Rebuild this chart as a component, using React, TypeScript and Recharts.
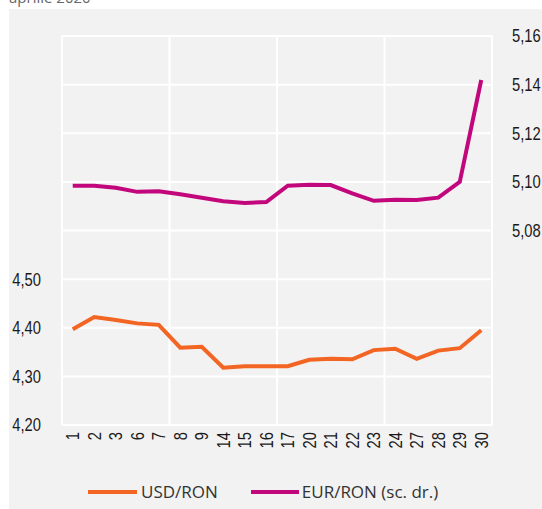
import { LineChart, Line, XAxis, YAxis, CartesianGrid } from 'recharts';

const days = ['1', '2', '3', '6', '7', '8', '9', '14', '15', '16', '17', '20', '21', '22', '23', '24', '27', '28', '29', '30'];
const usdRon = [4.397, 4.422, 4.416, 4.409, 4.406, 4.359, 4.361, 4.318, 4.321, 4.321, 4.321, 4.334, 4.336, 4.335, 4.354, 4.357, 4.336, 4.353, 4.358, 4.395];
const eurRon = [5.0984, 5.0984, 5.0976, 5.0959, 5.0961, 5.0949, 5.0935, 5.092, 5.0913, 5.0917, 5.0984, 5.0988, 5.0987, 5.0953, 5.0922, 5.0926, 5.0925, 5.0935, 5.1, 5.1419];

const leftTicks = [4.2, 4.3, 4.4, 4.5, 4.6, 4.7, 4.8, 4.9, 5.0];
const rightTicks = [5.0, 5.02, 5.04, 5.06, 5.08, 5.1, 5.12, 5.14, 5.16];

const ORANGE = '#f36523';
const MAGENTA = '#c2077c';
const TICK_FONT = '"Liberation Sans", Arial, sans-serif';
const NARROW = 0.82; // squeeze to a condensed look

const data = days.map((d, i) => ({ day: d, usd: usdRon[i], eur: eurRon[i] }));

const fmt = (v: number) => v.toFixed(2).replace('.', ',');

function DayTick({ x, y, payload }: any) {
  return (
    <text
      transform={`translate(${x},${y}) rotate(-90) scale(${NARROW},1)`}
      textAnchor="end"
      dy="0.36em"
      fontSize={18}
      fontFamily={TICK_FONT}
      fill="#1a1a1a"
    >
      {payload.value}
    </text>
  );
}

function ValueTick({ x, y, payload, side, show }: any) {
  const v = payload.value as number;
  if (!show(v)) return null;
  return (
    <text
      transform={`translate(${x},${y}) scale(${NARROW},1)`}
      textAnchor={side === 'left' ? 'end' : 'start'}
      dy="0.36em"
      fontSize={18}
      fontFamily={TICK_FONT}
      fill="#1a1a1a"
    >
      {fmt(v)}
    </text>
  );
}

export default function App() {
  return (
    <div style={{ position: 'absolute', left: 0, top: 0, width: 542, height: 509, background: '#fff', overflow: 'hidden' }}>
      <svg width={542} height={20} style={{ position: 'absolute', left: 0, top: 0 }}>
        <text x={9} y={3} fontSize={15} fontFamily='"Open Sans", sans-serif' fill="#666">
          aprilie 2020
        </text>
      </svg>
      <div style={{ position: 'absolute', left: 9, top: 9, width: 533, height: 500, background: '#f2f2f2' }}>
        <LineChart width={533} height={500} data={data} margin={{ top: 27, right: 0, left: 0, bottom: 0 }}>
          <CartesianGrid
            yAxisId="left"
            stroke="#ffffff"
            strokeWidth={2}
            verticalCoordinatesGenerator={({ offset }: any) =>
              [0, 1, 2, 3, 4].map((i) => offset.left + (offset.width * i) / 4)
            }
          />
          <XAxis
            dataKey="day"
            interval={0}
            height={84}
            padding={{ left: 10.75, right: 10.75 }}
            axisLine={false}
            tickLine={false}
            tickSize={0}
            tickMargin={7}
            tick={<DayTick />}
          />
          <YAxis
            yAxisId="left"
            orientation="left"
            width={53}
            domain={[4.2, 5.0]}
            ticks={leftTicks}
            interval={0}
            axisLine={false}
            tickLine={false}
            tickSize={0}
            tickMargin={21}
            tick={<ValueTick side="left" show={(v: number) => v <= 4.5 + 1e-9} />}
          />
          <YAxis
            yAxisId="right"
            orientation="right"
            width={50}
            domain={[5.0, 5.16]}
            ticks={rightTicks}
            interval={0}
            axisLine={false}
            tickLine={false}
            tickSize={0}
            tickMargin={20}
            tick={<ValueTick side="right" show={(v: number) => v >= 5.08 - 1e-9} />}
          />
          <Line yAxisId="left" dataKey="usd" stroke={ORANGE} strokeWidth={4} dot={false} isAnimationActive={false} />
          <Line yAxisId="right" dataKey="eur" stroke={MAGENTA} strokeWidth={4} dot={false} isAnimationActive={false} />
        </LineChart>
        <div
          style={{
            position: 'absolute',
            top: 473,
            left: 0,
            width: 533,
            display: 'flex',
            alignItems: 'center',
            fontFamily: '"Open Sans", sans-serif',
            fontSize: 17,
            color: '#333',
            lineHeight: '20px',
          }}
        >
          <span style={{ marginLeft: 79, width: 49, height: 4, background: ORANGE, display: 'inline-block' }} />
          <span style={{ marginLeft: 4 }}>USD/RON</span>
          <span style={{ marginLeft: 33, width: 48, height: 4, background: MAGENTA, display: 'inline-block' }} />
          <span style={{ marginLeft: 3 }}>EUR/RON (sc. dr.)</span>
        </div>
      </div>
    </div>
  );
}
